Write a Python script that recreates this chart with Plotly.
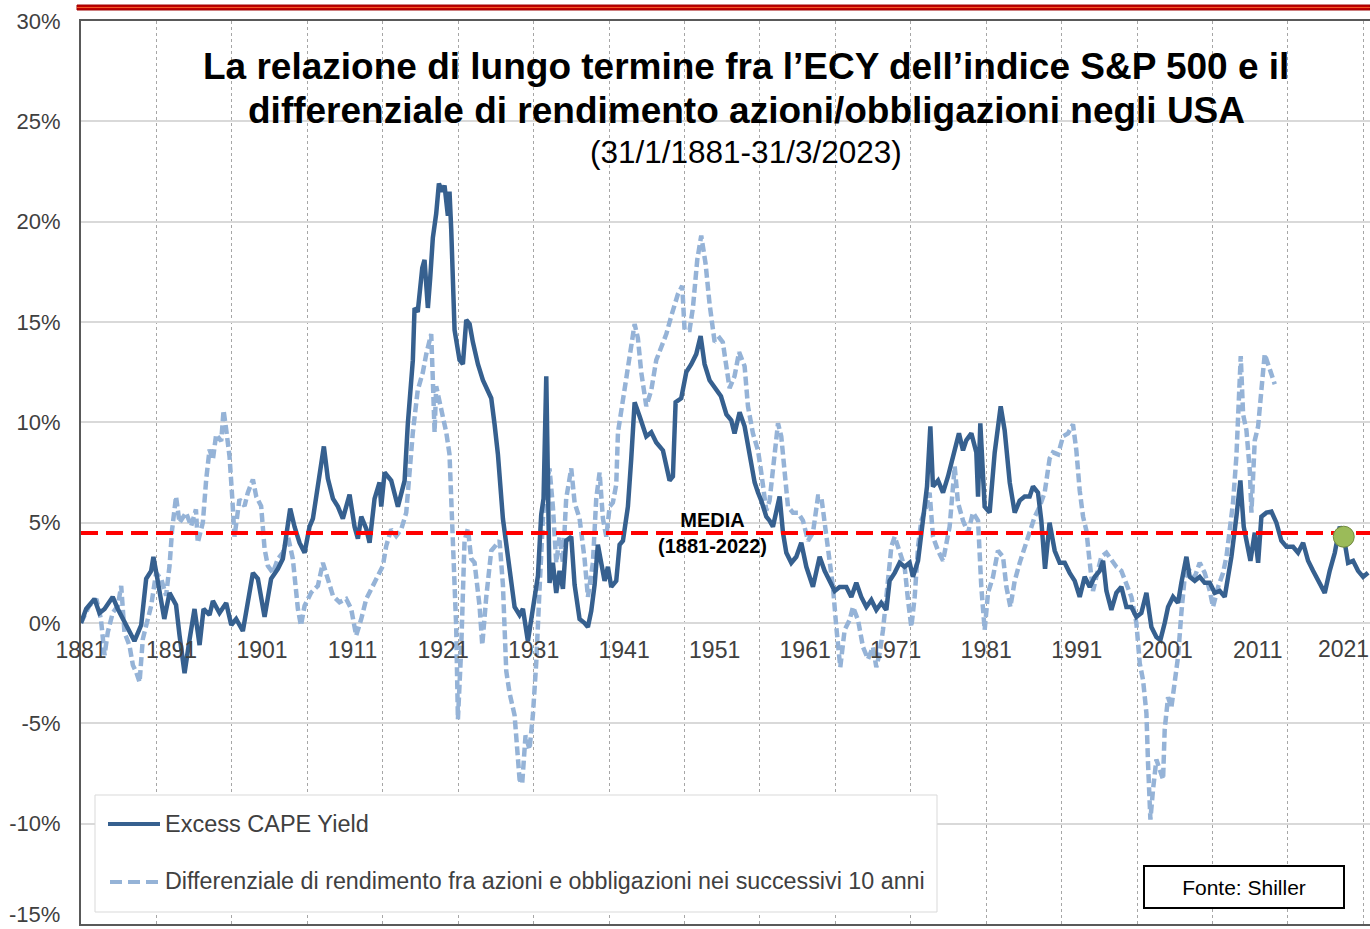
import plotly.graph_objects as go

# ---------------- DATA ----------------
cape_years = [
    1881.0, 1881.57, 1882.49, 1883.04, 1883.6, 1884.5, 1885.07, 1885.62, 1886.36, 1886.9,
    1887.65, 1888.2, 1888.75, 1889.0, 1889.38, 1889.86, 1890.2, 1890.78, 1891.5, 1891.88,
    1892.44, 1893.0, 1893.54, 1894.1, 1894.54, 1895.2, 1895.57, 1896.3, 1897.04, 1897.6,
    1898.14, 1898.88, 1899.43, 1899.99, 1900.54, 1901.28, 1902.0, 1902.75, 1903.3, 1903.67,
    1904.11, 1904.59, 1905.14, 1905.7, 1906.25, 1906.62, 1907.17, 1907.43, 1907.83, 1908.27,
    1908.83, 1909.38, 1909.93, 1910.67, 1911.22, 1911.59, 1911.96, 1912.51, 1912.88, 1913.43,
    1913.98, 1914.17, 1914.54, 1915.27, 1916.01, 1916.75, 1917.1, 1917.66, 1917.85, 1918.2,
    1918.7, 1918.95, 1919.32, 1919.58, 1919.87, 1920.24, 1920.54, 1920.9, 1921.16, 1921.53,
    1921.71, 1921.9, 1922.27, 1922.82, 1923.19, 1923.56, 1923.93, 1924.29, 1924.85, 1925.4,
    1925.95, 1926.32, 1926.69, 1927.06, 1927.61, 1928.16, 1928.9, 1929.45, 1929.82, 1930.37,
    1930.74, 1931.1, 1931.48, 1931.84, 1932.1, 1932.4, 1932.54, 1932.76, 1933.13, 1933.5,
    1933.87, 1934.24, 1934.6, 1935.16, 1935.53, 1936.08, 1936.63, 1937.0, 1937.37, 1937.74,
    1938.1, 1938.47, 1938.84, 1939.21, 1939.58, 1940.13, 1940.5, 1940.87, 1941.42, 1941.79,
    1942.16, 1942.71, 1943.45, 1944.0, 1944.55, 1945.29, 1946.02, 1946.39, 1946.69, 1947.31,
    1947.87, 1948.42, 1948.97, 1949.45, 1949.89, 1950.44, 1951.18, 1951.7, 1952.3, 1952.84,
    1953.2, 1953.76, 1954.31, 1954.86, 1955.42, 1955.79, 1956.15, 1956.71, 1957.07, 1957.44,
    1957.81, 1958.18, 1958.55, 1958.92, 1959.47, 1960.02, 1960.57, 1961.13, 1961.86, 1962.6,
    1963.15, 1963.7, 1964.26, 1964.81, 1965.55, 1966.1, 1966.65, 1967.2, 1967.76, 1968.31,
    1968.86, 1969.41, 1969.97, 1970.33, 1970.89, 1971.44, 1971.99, 1972.54, 1972.91, 1973.47,
    1974.02, 1974.46, 1974.83, 1975.12, 1975.68, 1976.23, 1976.78, 1977.33, 1977.99, 1978.44,
    1978.8, 1979.36, 1979.91, 1980.1, 1980.35, 1980.83, 1981.38, 1981.94, 1982.6, 1983.04,
    1983.6, 1984.15, 1984.7, 1985.25, 1985.8, 1986.17, 1986.72, 1987.09, 1987.5, 1988.0,
    1988.57, 1989.12, 1989.67, 1990.22, 1990.78, 1991.33, 1991.88, 1992.44, 1992.99, 1993.54,
    1993.91, 1994.28, 1994.83, 1995.38, 1995.93, 1996.49, 1997.04, 1997.59, 1998.14, 1998.7,
    1999.25, 1999.8, 2000.24, 2000.72, 2001.09, 2001.64, 2002.19, 2002.56, 2003.12, 2003.48,
    2004.04, 2004.59, 2005.14, 2005.7, 2006.25, 2006.8, 2007.35, 2007.72, 2008.09, 2008.64,
    2009.08, 2009.45, 2009.82, 2010.19, 2010.67, 2011.04, 2011.4, 2011.96, 2012.51, 2013.06,
    2013.61, 2014.17, 2014.9, 2015.45, 2016.01, 2016.56, 2017.11, 2017.66, 2018.4, 2018.95,
    2019.51, 2020.06, 2020.5, 2020.98, 2021.53, 2022.08, 2022.64, 2023.19,
]
cape_values = [
    0.0, 0.7, 1.2, 0.5, 0.7, 1.3, 0.7, 0.2, -0.5, -0.9,
    -0.1, 2.2, 2.6, 3.3, 2.35, 0.9, 0.2, 1.5, 0.9, -0.6,
    -2.5, -0.8, 0.7, -1.1, 0.7, 0.4, 1.1, 0.5, 1.0, -0.1,
    0.2, -0.4, 0.9, 2.5, 2.2, 0.3, 2.2, 2.7, 3.2, 4.2,
    5.7, 4.8, 4.0, 3.5, 4.8, 5.2, 6.7, 7.7, 8.8, 7.2,
    6.2, 5.8, 5.2, 6.4, 4.8, 4.2, 5.3, 4.7, 4.0, 6.2,
    7.0, 5.8, 7.5, 7.1, 5.8, 7.1, 9.9, 13.1, 15.7, 15.5,
    17.7, 18.1, 15.7, 17.2, 19.2, 20.4, 21.9, 21.5, 21.8, 20.3,
    21.5, 19.6, 14.6, 13.1, 12.9, 15.1, 14.9, 14.0, 12.9, 12.1,
    11.6, 11.2, 9.9, 8.4, 5.2, 3.2, 0.8, 0.4, 0.7, -0.9,
    0.2, 1.3, 2.35, 5.4, 6.2, 12.3, 8.2, 2.0, 3.0, 1.5,
    2.6, 1.7, 4.1, 4.3, 1.9, 0.2, 0.0, -0.2, 0.6, 1.9,
    3.9, 3.0, 2.1, 2.8, 1.8, 2.1, 3.9, 4.1, 5.8, 8.2,
    11.0, 10.3, 9.3, 9.5, 9.0, 8.6, 7.1, 7.3, 11.0, 11.2,
    12.5, 12.9, 13.4, 14.3, 12.9, 12.1, 11.6, 11.3, 10.4, 10.1,
    9.45, 10.5, 9.8, 8.5, 7.0, 6.5, 6.1, 5.3, 5.1, 4.8,
    5.5, 6.3, 4.5, 3.5, 3.0, 3.3, 4.0, 2.8, 1.8, 3.3,
    2.6, 2.1, 1.6, 1.8, 1.8, 1.3, 2.0, 1.3, 0.8, 1.15,
    0.65, 1.0, 0.65, 2.1, 2.5, 3.0, 2.8, 3.0, 2.3, 3.1,
    5.1, 6.8, 9.8, 6.8, 7.1, 6.5, 7.3, 8.3, 9.45, 8.6,
    9.1, 9.45, 8.5, 6.3, 9.95, 5.8, 5.5, 8.5, 10.8, 9.6,
    7.0, 5.5, 6.1, 6.3, 6.3, 6.8, 6.5, 5.1, 2.7, 5.0,
    3.6, 3.0, 3.0, 2.5, 2.1, 1.3, 2.3, 1.8, 2.3, 2.6,
    3.1, 1.6, 0.65, 1.5, 1.8, 0.8, 0.8, 0.3, 0.5, 1.5,
    -0.2, -0.7, -0.85, 0.0, 0.8, 1.3, 1.0, 2.0, 3.3, 2.3,
    2.1, 2.3, 2.0, 2.0, 1.5, 1.6, 1.3, 2.3, 3.3, 5.3,
    7.1, 4.8, 4.0, 3.1, 4.5, 3.0, 5.3, 5.5, 5.55, 5.0,
    4.1, 3.8, 3.8, 3.5, 4.0, 3.1, 2.6, 2.1, 1.5, 2.6,
    3.5, 4.8, 4.3, 3.0, 3.1, 2.6, 2.3, 2.5,
]

diff_years = [
    1881.0, 1881.9, 1882.7, 1883.2, 1883.6, 1883.96, 1884.5, 1885.07, 1885.44, 1885.8,
    1886.36, 1886.73, 1887.1, 1887.47, 1887.83, 1888.38, 1888.75, 1889.3, 1889.86, 1890.4,
    1890.78, 1891.07, 1891.5, 1891.88, 1892.6, 1893.17, 1893.7, 1893.9, 1894.46, 1894.83,
    1895.2, 1895.57, 1895.93, 1896.49, 1896.75, 1897.04, 1897.41, 1897.7, 1897.96, 1898.5,
    1899.07, 1899.43, 1899.99, 1900.36, 1900.9, 1901.28, 1901.64, 1902.2, 1902.75, 1903.3,
    1903.85, 1904.4, 1904.96, 1905.3, 1905.7, 1906.43, 1907.17, 1907.72, 1908.27, 1908.83,
    1909.56, 1910.3, 1910.85, 1911.4, 1911.96, 1912.51, 1913.24, 1913.8, 1914.35, 1914.72,
    1915.27, 1915.82, 1916.38, 1916.93, 1917.3, 1917.66, 1918.2, 1918.77, 1919.14, 1919.69,
    1919.87, 1920.06, 1920.24, 1920.6, 1920.98, 1921.35, 1921.71, 1921.9, 1922.08, 1922.45,
    1922.64, 1923.0, 1923.37, 1923.74, 1924.11, 1924.48, 1925.03, 1925.33, 1925.77, 1926.32,
    1926.87, 1927.24, 1927.61, 1927.98, 1928.35, 1928.9, 1929.45, 1929.74, 1930.11, 1930.55,
    1930.92, 1931.29, 1931.66, 1932.03, 1932.4, 1932.76, 1933.13, 1933.5, 1933.87, 1934.24,
    1934.6, 1935.16, 1935.53, 1936.08, 1936.63, 1937.0, 1937.55, 1937.92, 1938.29, 1938.66,
    1939.03, 1939.4, 1939.76, 1940.13, 1940.32, 1940.68, 1941.24, 1941.79, 1942.16, 1942.52,
    1942.89, 1943.45, 1944.0, 1944.55, 1945.1, 1945.66, 1946.21, 1946.58, 1946.95, 1947.42,
    1947.68, 1948.23, 1948.6, 1949.08, 1949.52, 1950.0, 1950.44, 1951.0, 1951.55, 1951.9,
    1952.65, 1953.2, 1953.7, 1954.31, 1954.68, 1955.23, 1955.79, 1956.15, 1956.71, 1957.07,
    1957.44, 1957.74, 1958.0, 1958.36, 1958.73, 1959.1, 1959.65, 1960.2, 1960.76, 1961.31,
    1961.86, 1962.42, 1962.78, 1963.15, 1963.52, 1964.07, 1964.44, 1964.88, 1965.36, 1965.91,
    1966.28, 1966.84, 1967.39, 1967.94, 1968.49, 1968.86, 1969.23, 1969.6, 1969.97, 1970.52,
    1970.89, 1971.44, 1971.99, 1972.36, 1972.73, 1973.1, 1973.47, 1973.83, 1974.39, 1974.75,
    1975.12, 1975.68, 1976.23, 1976.96, 1977.52, 1977.88, 1978.44, 1978.99, 1979.54, 1980.1,
    1980.46, 1980.83, 1981.2, 1981.75, 1982.3, 1982.86, 1983.23, 1983.67, 1984.15, 1984.7,
    1985.25, 1985.8, 1986.36, 1986.91, 1987.46, 1988.01, 1988.38, 1988.94, 1989.49, 1990.04,
    1990.59, 1990.96, 1991.33, 1991.7, 1992.07, 1992.44, 1992.8, 1993.17, 1993.72, 1994.28,
    1994.83, 1995.38, 1995.93, 1996.49, 1997.04, 1997.59, 1997.96, 1998.33, 1998.7, 1998.88,
    1999.14, 1999.43, 1999.8, 2000.17, 2000.54, 2000.72, 2001.09, 2001.46, 2001.83, 2002.19,
    2002.56, 2002.93, 2003.48, 2004.04, 2004.59, 2005.14, 2005.7, 2006.06, 2006.62, 2007.17,
    2007.54, 2007.9, 2008.27, 2008.64, 2008.9, 2009.12, 2009.38, 2009.75, 2010.12, 2010.3,
    2010.67, 2011.04, 2011.4, 2011.77, 2012.14, 2012.51, 2012.88,
]
diff_values = [
    0.0, 0.86, 1.2, 0.2, -1.6, -0.46, 0.5, 0.86, 1.85, -0.46,
    -1.13, -2.1, -2.45, -2.95, -0.8, 0.2, 0.86, 2.5, 2.2, 1.36,
    2.85, 4.67, 6.3, 5.0, 5.5, 4.83, 5.66, 4.0, 5.0, 7.15,
    8.64, 8.15, 9.39, 9.06, 10.6, 9.64, 8.3, 6.3, 4.3, 6.16,
    5.83, 6.5, 7.15, 6.3, 5.83, 3.7, 2.85, 2.5, 3.2, 3.5,
    4.34, 3.2, 0.7, -0.13, 0.86, 1.52, 1.85, 3.0, 2.2, 1.36,
    1.03, 1.2, 0.7, -0.63, 0.2, 1.2, 1.85, 2.35, 2.85, 3.84,
    4.67, 4.34, 4.67, 5.5, 7.5, 9.5, 11.6, 12.5, 13.4, 14.4,
    12.1, 9.5, 11.8, 11.0, 10.3, 9.5, 8.4, 6.2, 3.0, -0.2,
    -4.8, -1.3, 4.1, 4.7, 3.2, 3.0, 0.84, -1.1, 1.3, 3.6,
    3.9, 4.1, 1.9, -2.4, -3.5, -4.6, -7.8, -8.0, -5.6, -6.3,
    -4.6, -2.0, 1.7, 5.2, 6.9, 7.7, 5.8, 3.0, 4.3, 3.0,
    6.2, 7.7, 6.0, 5.2, 3.2, 1.3, 3.0, 6.2, 7.5, 5.2,
    4.3, 5.8, 6.0, 6.9, 9.5, 10.5, 12.1, 13.8, 14.9, 14.2,
    12.5, 10.8, 11.6, 13.1, 13.8, 14.4, 15.3, 15.9, 16.4, 16.8,
    14.6, 14.6, 15.7, 18.1, 19.3, 17.9, 15.9, 14.0, 14.2, 14.0,
    11.7, 12.3, 13.5, 12.8, 10.8, 9.45, 8.6, 7.5, 5.6, 6.1,
    7.5, 9.1, 9.95, 9.3, 7.5, 5.8, 5.5, 5.5, 5.1, 4.1,
    4.5, 6.3, 6.3, 5.1, 3.6, 1.8, -0.2, -2.2, -0.35, 0.15,
    0.8, 0.15, -1.2, -1.8, -1.2, -2.2, -1.5, -0.35, 1.3, 3.8,
    4.3, 3.5, 2.8, 1.15, -0.2, 1.3, 3.8, 5.1, 5.8, 6.5,
    4.3, 3.6, 3.1, 4.8, 7.8, 6.0, 5.1, 4.5, 5.5, 5.1,
    1.8, -0.35, 1.5, 2.3, 3.6, 3.3, 1.8, 0.8, 2.1, 3.0,
    3.8, 4.6, 5.3, 5.8, 6.5, 8.2, 8.5, 8.4, 9.3, 9.45,
    9.9, 8.6, 6.6, 5.3, 4.6, 3.0, 1.6, 2.3, 3.3, 3.5,
    3.1, 2.8, 2.6, 2.0, 1.3, 0.0, -2.0, -2.85, -4.5, -7.0,
    -9.8, -8.3, -6.8, -7.3, -7.8, -5.3, -3.7, -4.2, -3.0, -1.7,
    0.5, 2.3, 2.6, 2.3, 3.0, 2.5, 1.6, 0.8, 1.8, 2.5,
    3.3, 4.6, 6.0, 8.3, 11.3, 13.3, 10.4, 9.6, 7.6, 5.5,
    9.1, 9.8, 11.6, 13.4, 12.9, 12.4, 11.9,
]

cape_name = "Excess CAPE Yield"
diff_name = "Differenziale di rendimento fra azioni e obbligazioni nei successivi 10 anni"

mean_value = 4.48                 # MEDIA (1881-2022)
mean_span = [1881.0, 2023.4]
last_point_year = [2020.5]
last_point_value = [4.3]

y_tick_values = [-15, -10, -5, 0, 5, 10, 15, 20, 25, 30]
x_label_years = [1881, 1891, 1901, 1911, 1921, 1931, 1941, 1951, 1961, 1971, 1981, 1991, 2001, 2011, 2021]
grid_years = [1881 + k * 100 / 12 for k in range(0, 18)]   # Excel gridline every 100 months

X_RANGE = [1881.0, 2023.4]
Y_RANGE = [-15, 30]

DARK = "#36608f"
LIGHT = "#95b3d7"
LIGHT_DASH = "9px,4px"
FONT = "Liberation Sans, Arial, sans-serif"
TICK_COLOR = "#404040"

fig = go.Figure()

fig.add_trace(go.Scatter(
    x=diff_years, y=diff_values, mode="lines", name=diff_name,
    line=dict(color=LIGHT, width=4.5, dash=LIGHT_DASH),
    showlegend=False, hoverinfo="skip",
))
fig.add_trace(go.Scatter(
    x=cape_years, y=cape_values, mode="lines", name=cape_name,
    line=dict(color=DARK, width=4.5),
    showlegend=False, hoverinfo="skip",
))
fig.add_trace(go.Scatter(
    x=mean_span, y=[mean_value, mean_value], mode="lines",
    line=dict(color="#ff0000", width=4, dash="17px,8px"),
    showlegend=False, hoverinfo="skip",
))
fig.add_trace(go.Scatter(
    x=last_point_year, y=last_point_value, mode="markers",
    marker=dict(size=21, color="#9bbb59", line=dict(color="#71893f", width=1)),
    showlegend=False, hoverinfo="skip",
))
# invisible trace so the label axis (crossing at 0%) is drawn
fig.add_trace(go.Scatter(
    x=[X_RANGE[0]], y=[None], xaxis="x2", mode="lines",
    showlegend=False, hoverinfo="skip",
))

# the last x label and the lowest y label sit on the page edge: they are drawn as
# annotations kept inside the page, the others by the axes
axis_x_labels = x_label_years[:-1]
axis_y_ticks = y_tick_values[1:]

fig.update_layout(
    width=1370, height=929,
    margin=dict(l=81, r=0, t=21, b=5),
    paper_bgcolor="white", plot_bgcolor="white",
    font=dict(family=FONT, color=TICK_COLOR, size=21),
    showlegend=False,
    xaxis=dict(
        range=X_RANGE, tickvals=grid_years, showticklabels=False, ticks="",
        showgrid=True, gridcolor="#a6a6a6", griddash="dot", gridwidth=1,
        showline=True, mirror=True, linecolor="#595959", linewidth=2,
        zeroline=False,
    ),
    xaxis2=dict(
        overlaying="x", matches="x", anchor="free", position=1 / 3,
        range=X_RANGE, tickvals=axis_x_labels, ticktext=[str(v) for v in axis_x_labels],
        showgrid=False, showline=False, zeroline=False, ticks="",
        tickfont=dict(family=FONT, size=23, color=TICK_COLOR),
        ticklabelstandoff=11,
    ),
    yaxis=dict(
        range=Y_RANGE, tickvals=axis_y_ticks, ticktext=[f"{v}%" for v in axis_y_ticks],
        showgrid=True, gridcolor="#d9d9d9", gridwidth=1.5, zeroline=False,
        showline=True, linecolor="#595959", linewidth=2, ticks="",
        tickfont=dict(family=FONT, size=22, color=TICK_COLOR),
        ticklabelstandoff=14,
    ),
)


def px_x(px):
    return (px - 81) / 1289.0


def px_y(py):
    return 1 - (py - 21) / 903.0


# edge labels
fig.add_annotation(text=str(x_label_years[-1]), xref="paper", yref="paper", x=1.0, y=px_y(649),
                   showarrow=False, xanchor="right", yanchor="middle", borderpad=0,
                   font=dict(family=FONT, size=23, color=TICK_COLOR))
fig.add_annotation(text=f"{y_tick_values[0]}%", xref="paper", yref="paper", x=px_x(61), y=px_y(928),
                   showarrow=False, xanchor="right", yanchor="bottom", borderpad=0,
                   font=dict(family=FONT, size=22, color=TICK_COLOR))

# ---- titles ----
title_x = px_x(746)
fig.add_annotation(text="<b>La relazione di lungo termine fra l’ECY dell’indice S&P 500 e il</b>",
                   xref="paper", yref="paper", x=title_x, y=px_y(66), showarrow=False,
                   xanchor="center", yanchor="middle", font=dict(family=FONT, size=37, color="black"))
fig.add_annotation(text="<b>differenziale di rendimento azioni/obbligazioni negli USA</b>",
                   xref="paper", yref="paper", x=title_x, y=px_y(110), showarrow=False,
                   xanchor="center", yanchor="middle", font=dict(family=FONT, size=37, color="black"))
fig.add_annotation(text="(31/1/1881-31/3/2023)",
                   xref="paper", yref="paper", x=title_x, y=px_y(152), showarrow=False,
                   xanchor="center", yanchor="middle", font=dict(family=FONT, size=31.5, color="black"))

fig.add_annotation(text="<b>MEDIA</b><br><b>(1881-2022)</b>", x=1950.8, y=mean_value,
                   showarrow=False, xanchor="center", yanchor="middle",
                   font=dict(family=FONT, size=20, color="black"))

fig.add_annotation(text="Fonte: Shiller", xref="paper", yref="paper", x=px_x(1244), y=px_y(887),
                   showarrow=False, xanchor="center", yanchor="middle",
                   bordercolor="black", borderwidth=2, borderpad=0, bgcolor="white",
                   width=198, height=40, font=dict(family=FONT, size=21, color="black"))

# ---- legend box (drawn with shapes + text) ----
fig.add_shape(type="rect", xref="paper", yref="paper",
              x0=px_x(95), x1=px_x(937), y0=px_y(912), y1=px_y(795),
              fillcolor="white", line=dict(color="#d9d9d9", width=1), layer="above")
fig.add_shape(type="line", xref="paper", yref="paper",
              x0=px_x(108), x1=px_x(160), y0=px_y(824), y1=px_y(824),
              line=dict(color=DARK, width=4), layer="above")
fig.add_shape(type="line", xref="paper", yref="paper",
              x0=px_x(110), x1=px_x(160), y0=px_y(882), y1=px_y(882),
              line=dict(color=LIGHT, width=4, dash="12px,6px"), layer="above")
fig.add_annotation(text=cape_name, xref="paper", yref="paper", x=px_x(163), y=px_y(824),
                   showarrow=False, xanchor="left", yanchor="middle",
                   font=dict(family=FONT, size=23.5, color=TICK_COLOR))
fig.add_annotation(text=diff_name, xref="paper", yref="paper", x=px_x(163), y=px_y(881),
                   showarrow=False, xanchor="left", yanchor="middle",
                   font=dict(family=FONT, size=23.3, color=TICK_COLOR))

# decorative red band at the top of the slide
fig.add_shape(type="rect", xref="paper", yref="paper", x0=px_x(77), x1=1.0, y0=px_y(10), y1=px_y(5),
              fillcolor="#c00000", line=dict(color="#a00000", width=1), layer="above")
fig.add_shape(type="line", xref="paper", yref="paper", x0=px_x(77), x1=1.0, y0=px_y(7.5), y1=px_y(7.5),
              line=dict(color="#f05a28", width=1), layer="above")

fig.write_html("out.html", config={"displayModeBar": False},
               post_script="document.body.style.margin='0px';document.body.style.overflow='hidden';")
